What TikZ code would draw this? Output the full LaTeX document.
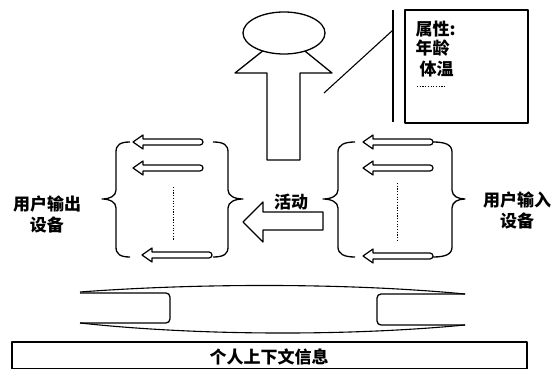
\documentclass[tikz,border=0pt]{standalone}
\usepackage{fontspec}
\newfontfamily\cjk{Noto Sans CJK SC}
\begin{document}
\begin{tikzpicture}[x=1pt,y=-1pt, line width=1.3pt, line join=round,
  lbl/.style={font=\cjk\bfseries\fontsize{17}{21}\selectfont, inner sep=0pt, align=center},
  attr/.style={font=\cjk\bfseries\fontsize{17}{19}\selectfont, inner sep=0pt, anchor=west},
  sarr/.pic={\draw[line width=1.2pt] (0,0) -- (10,-7) -- (10,-3) -- ({#1-3},-3) arc(-90:90:3) -- (10,3) -- (10,7) -- cycle;},
  dots/.style={line width=0.8pt, dash pattern=on 1.2pt off 1.5pt}
]
\useasboundingbox (0,0) rectangle (560,369);
% person
\draw[fill=white] (267,160) -- (267,73) -- (235,73) -- (284,34) -- (332,73) -- (300,73) -- (300,160) -- cycle;
\draw[fill=white] (284,33) ellipse [x radius=41, y radius=21];
% callout
\coordinate (vt) at (393,10);
\coordinate (vb) at (393,122);
\draw (vt) -- (vb);
\coordinate (d1) at (324,93);
\coordinate (d2) at (393,30);
\draw[line width=1.1pt] (d1) -- (d2);
\draw (405,10) rectangle (528,123);
\node[attr] (a1) at (415,29) {属性:};
\node[attr] (a2) at (415,48) {年龄};
\node[attr] (a3) at (419,69) {体温};
\draw[dots] (417,86) -- (445,86);
% left group
\draw (130,142) .. controls (120,142) and (116,145) .. (116,152) -- (116,190) .. controls (116,196) and (110,199) .. (102,199) .. controls (110,199) and (116,202) .. (116,208) -- (116,247) .. controls (116,254) and (120,257) .. (130,257);
\draw (213,142) .. controls (224,142) and (228,145) .. (228,152) -- (228,190) .. controls (228,196) and (235,199) .. (243,199) .. controls (235,199) and (228,202) .. (228,208) -- (228,247) .. controls (228,254) and (224,257) .. (213,257);
\pic at (133,142) {sarr=70};
\pic at (133,168) {sarr=70};
\pic at (142,255) {sarr=70};
\draw[dots] (173,187) -- (173,240);
\node[lbl] (outl) at (47,214) {用户输出\\设备};
% right group
\draw (355,142) .. controls (344,142) and (338,145) .. (338,152) -- (338,190) .. controls (338,196) and (331,199) .. (323,199) .. controls (331,199) and (338,202) .. (338,208) -- (338,247) .. controls (338,254) and (344,257) .. (355,257);
\draw (433,142) .. controls (446,142) and (452,145) .. (452,152) -- (452,190) .. controls (452,196) and (458,199) .. (465,199) .. controls (458,199) and (452,202) .. (452,208) -- (452,247) .. controls (452,254) and (446,257) .. (433,257);
\pic at (363,142) {sarr=70};
\pic at (363,168) {sarr=70};
\pic at (363,256) {sarr=70};
\draw[dots] (397,183) -- (397,242);
\node[lbl] (inl) at (517,210) {用户输入\\设备};
% activity arrow
\draw[fill=white] (243,222) -- (263,202) -- (263,212) -- (323,212) -- (323,230) -- (263,230) -- (263,242) -- cycle;
\node[lbl] (act) at (291,202) {活动};
% pipe
\draw[line width=1.1pt] (80,292) .. controls (200,283) and (350,283) .. (465,294);
\draw[line width=1.1pt] (80,323) .. controls (200,336) and (350,336) .. (465,325);
\draw[rounded corners=4] (80,293) -- (170,293) -- (170,323) -- (80,323);
\draw[rounded corners=4] (465,294) -- (377,294) -- (377,325) -- (465,325);
% bottom box
\draw[line width=1.1pt] (12,342) rectangle (527,369);
\node[lbl] (ctx) at (269,357) {个人上下文信息};
\end{tikzpicture}
\end{document}
